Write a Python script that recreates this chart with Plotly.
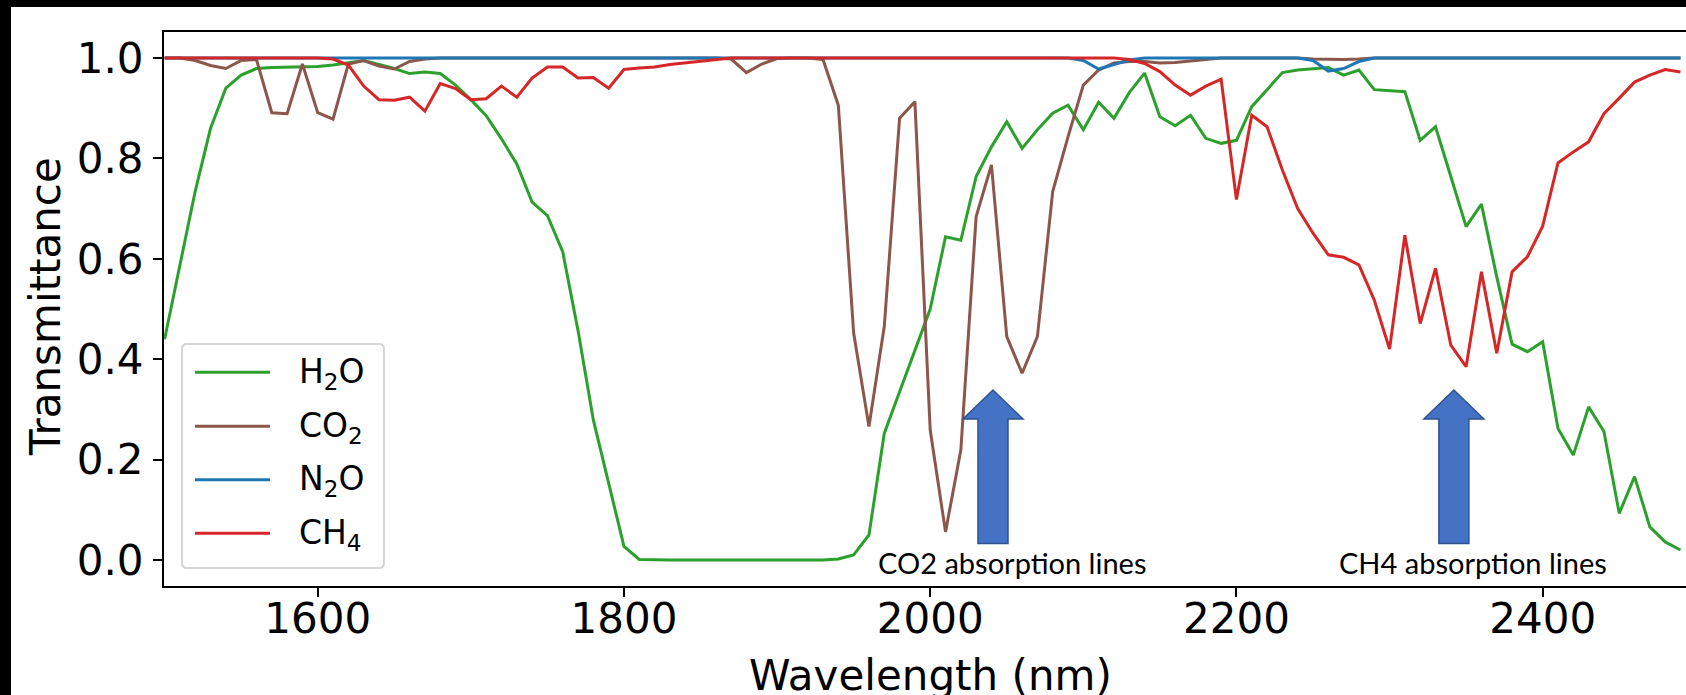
import plotly.graph_objects as go

# ---------------- data ----------------
wavelength = list(range(1500, 2500, 10))

h2o = [0.44, 0.59, 0.735, 0.86, 0.94, 0.966, 0.979, 0.981, 0.982, 0.982,
       0.983, 0.986, 0.99, 0.995, 0.987, 0.979, 0.969, 0.972, 0.969, 0.946,
       0.917, 0.885, 0.839, 0.789, 0.713, 0.686, 0.614, 0.457, 0.279, 0.153,
       0.027, 0.001, 0.0, 0.0, 0.0, 0.0, 0.0, 0.0, 0.0, 0.0,
       0.0, 0.0, 0.0, 0.0, 0.002, 0.01, 0.05, 0.252, 0.335, 0.418,
       0.5, 0.644, 0.637, 0.764, 0.823, 0.873, 0.82, 0.857, 0.89, 0.906,
       0.857, 0.912, 0.88, 0.931, 0.97, 0.883, 0.865, 0.886, 0.84, 0.83,
       0.836, 0.903, 0.936, 0.971, 0.976, 0.979, 0.981, 0.966, 0.976, 0.937,
       0.935, 0.933, 0.836, 0.863, 0.764, 0.664, 0.709, 0.564, 0.43, 0.415,
       0.435, 0.262, 0.209, 0.305, 0.256, 0.093, 0.166, 0.066, 0.036, 0.02]

co2 = [1.0, 1.0, 0.995, 0.985, 0.979, 0.995, 0.997, 0.891, 0.889, 0.988,
       0.891, 0.878, 0.988, 0.995, 0.984, 0.978, 0.993, 0.998, 1.0, 1.0,
       1.0, 1.0, 1.0, 1.0, 1.0, 1.0, 1.0, 1.0, 1.0, 1.0,
       1.0, 1.0, 1.0, 1.0, 1.0, 1.0, 1.0, 0.998, 0.971, 0.988,
       0.999, 1.0, 1.0, 0.997, 0.906, 0.452, 0.266, 0.465, 0.88, 0.913,
       0.259, 0.056, 0.219, 0.684, 0.787, 0.445, 0.372, 0.445, 0.734, 0.843,
       0.946, 0.976, 0.99, 0.993, 0.993, 0.99, 0.991, 0.994, 0.997, 1.0,
       1.0, 1.0, 1.0, 1.0, 1.0, 0.998, 0.997, 0.997, 0.998, 1.0,
       1.0, 1.0, 1.0, 1.0, 1.0, 1.0, 1.0, 1.0, 1.0, 1.0,
       1.0, 1.0, 1.0, 1.0, 1.0, 1.0, 1.0, 1.0, 1.0, 1.0]

n2o = [1.0, 1.0, 1.0, 1.0, 1.0, 1.0, 1.0, 1.0, 1.0, 1.0,
       1.0, 1.0, 1.0, 1.0, 1.0, 1.0, 1.0, 1.0, 1.0, 1.0,
       1.0, 1.0, 1.0, 1.0, 1.0, 1.0, 1.0, 1.0, 1.0, 1.0,
       1.0, 1.0, 1.0, 1.0, 1.0, 1.0, 1.0, 1.0, 1.0, 1.0,
       1.0, 1.0, 1.0, 1.0, 1.0, 1.0, 1.0, 1.0, 1.0, 1.0,
       1.0, 1.0, 1.0, 1.0, 1.0, 1.0, 1.0, 1.0, 1.0, 1.0,
       0.995, 0.978, 0.987, 0.996, 1.0, 1.0, 1.0, 1.0, 1.0, 1.0,
       1.0, 1.0, 1.0, 1.0, 1.0, 0.995, 0.974, 0.979, 0.993, 1.0,
       1.0, 1.0, 1.0, 1.0, 1.0, 1.0, 1.0, 1.0, 1.0, 1.0,
       1.0, 1.0, 1.0, 1.0, 1.0, 1.0, 1.0, 1.0, 1.0, 1.0]

ch4 = [1.0, 1.0, 1.0, 1.0, 1.0, 1.0, 1.0, 1.0, 1.0, 1.0,
       1.0, 0.998, 0.986, 0.944, 0.917, 0.916, 0.922, 0.894, 0.949, 0.939,
       0.917, 0.919, 0.944, 0.922, 0.96, 0.982, 0.982, 0.96, 0.961, 0.94,
       0.977, 0.98, 0.982, 0.987, 0.99, 0.993, 0.997, 1.0, 1.0, 1.0,
       1.0, 1.0, 1.0, 1.0, 1.0, 1.0, 1.0, 1.0, 1.0, 1.0,
       1.0, 1.0, 1.0, 1.0, 1.0, 1.0, 1.0, 1.0, 1.0, 1.0,
       1.0, 1.0, 1.0, 0.997, 0.989, 0.973, 0.946, 0.926, 0.944, 0.958,
       0.718, 0.886, 0.863, 0.777, 0.70, 0.651, 0.608, 0.603, 0.588, 0.518,
       0.42, 0.647, 0.471, 0.581, 0.428, 0.385, 0.574, 0.412, 0.574, 0.604,
       0.665, 0.791, 0.813, 0.833, 0.889, 0.92, 0.952, 0.966, 0.977, 0.972]

series_values = [h2o, co2, n2o, ch4]
series_names = ["H<sub>2</sub>O", "CO<sub>2</sub>", "N<sub>2</sub>O", "CH<sub>4</sub>"]
series_colors = ["#2ca02c", "#8c564b", "#1f77b4", "#d62728"]

x_ticks = [1600, 1800, 2000, 2200, 2400]
y_ticks = [0.0, 0.2, 0.4, 0.6, 0.8, 1.0]
y_tick_labels = ["0.0", "0.2", "0.4", "0.6", "0.8", "1.0"]
x_title = "Wavelength (nm)"
y_title = "Transmittance"

callout_texts = ["CO2 absorption lines", "CH4 absorption lines"]
callout_wavelengths = [2041, 2342]   # where the blue arrows point

# ---------------- geometry ----------------
W, H = 1686, 695
L, R, T, B = 164, 1686, 32, 586
X_RANGE = [1499.6, 2493.6]
Y_RANGE = [-0.0518, 1.0518]


def px(x):
    return (x - L) / (R - L)


def py(y):
    return (B - y) / (B - T)


def nm_to_px(nm):
    return L + (nm - X_RANGE[0]) / (X_RANGE[1] - X_RANGE[0]) * (R - L)


def path(points, close=True):
    s = "M " + " L ".join(f"{px(x):.5f},{py(y):.5f}" for x, y in points)
    return s + (" Z" if close else "")


fig = go.Figure()
for name, vals, col in zip(series_names, series_values, series_colors):
    fig.add_trace(go.Scatter(x=wavelength, y=vals, mode="lines", name=name,
                             line=dict(color=col, width=3), showlegend=False))

shapes = []
annotations = []

# white slide area on a black page (black bands on top and left)
shapes.append(dict(type="rect", xref="paper", yref="paper", x0=px(11), x1=px(W + 20),
                   y0=py(H + 20), y1=py(7), fillcolor="white", line=dict(width=0),
                   layer="below"))

# legend box (rounded)
bx0, bx1, by0, by1, r = 182, 384, 344, 568, 5
lp = (f"M {px(bx0 + r):.5f},{py(by0):.5f} L {px(bx1 - r):.5f},{py(by0):.5f} "
      f"Q {px(bx1):.5f},{py(by0):.5f} {px(bx1):.5f},{py(by0 + r):.5f} "
      f"L {px(bx1):.5f},{py(by1 - r):.5f} "
      f"Q {px(bx1):.5f},{py(by1):.5f} {px(bx1 - r):.5f},{py(by1):.5f} "
      f"L {px(bx0 + r):.5f},{py(by1):.5f} "
      f"Q {px(bx0):.5f},{py(by1):.5f} {px(bx0):.5f},{py(by1 - r):.5f} "
      f"L {px(bx0):.5f},{py(by0 + r):.5f} "
      f"Q {px(bx0):.5f},{py(by0):.5f} {px(bx0 + r):.5f},{py(by0):.5f} Z")
shapes.append(dict(type="path", xref="paper", yref="paper", path=lp,
                   fillcolor="rgba(255,255,255,0.8)", line=dict(color="#d6d6d6", width=2),
                   layer="above"))
entry_y = [372.3, 426.3, 479.7, 533.3]
for ey, name, col in zip(entry_y, series_names, series_colors):
    shapes.append(dict(type="line", xref="paper", yref="paper", x0=px(195), x1=px(270),
                       y0=py(ey), y1=py(ey), line=dict(color=col, width=3), layer="above"))
    annotations.append(dict(xref="paper", yref="paper", x=px(297), y=py(ey + 1),
                            xanchor="left", yanchor="middle", text=name, showarrow=False,
                            font=dict(family="DejaVu Sans", size=33, color="black")))

# block arrows + callout texts
for nm, txt in zip(callout_wavelengths, callout_texts):
    cx = nm_to_px(nm)
    pts = [(cx, 390), (cx + 30, 419), (cx + 15, 419), (cx + 15, 543.5),
           (cx - 15, 543.5), (cx - 15, 419), (cx - 30, 419)]
    shapes.append(dict(type="path", xref="paper", yref="paper", path=path(pts),
                       fillcolor="#4472C4", line=dict(color="#2F528F", width=1.5),
                       layer="above"))
    annotations.append(dict(xref="paper", yref="paper", x=px(cx + 19), y=py(562),
                            xanchor="center", yanchor="middle", text=txt, showarrow=False,
                            font=dict(family="Lato", size=29, color="black")))

# axis titles (placed like the reference: x title partly cut by the bottom edge)
annotations.append(dict(xref="paper", yref="paper", x=px(930.5), y=py(675),
                        xanchor="center", yanchor="middle", text=x_title, showarrow=False,
                        font=dict(family="DejaVu Sans", size=42, color="black")))
annotations.append(dict(xref="paper", yref="paper", x=px(45), y=py(307),
                        xanchor="center", yanchor="middle", text=y_title, showarrow=False,
                        textangle=-90,
                        font=dict(family="DejaVu Sans", size=42, color="black")))

axis_common = dict(showline=True, linecolor="black", linewidth=2, ticks="outside",
                   ticklen=9, tickwidth=2, tickcolor="black", showgrid=False,
                   zeroline=False, automargin=False,
                   tickfont=dict(family="DejaVu Sans", size=42, color="black"))

fig.update_layout(
    width=W, height=H,
    margin=dict(l=L, r=W - R, t=T, b=H - B, pad=0),
    paper_bgcolor="black", plot_bgcolor="white",
    showlegend=False,
    shapes=shapes, annotations=annotations,
    xaxis=dict(range=X_RANGE, tickvals=x_ticks, mirror=True, ticklabelstandoff=-14,
               **axis_common),
    yaxis=dict(range=Y_RANGE, tickvals=y_ticks, ticktext=y_tick_labels,
               ticklabelstandoff=1, **axis_common),
)

fig.write_html("out.html",
               config={"displayModeBar": False},
               post_script="document.body.style.margin='0';"
                           "document.body.style.background='black';")
